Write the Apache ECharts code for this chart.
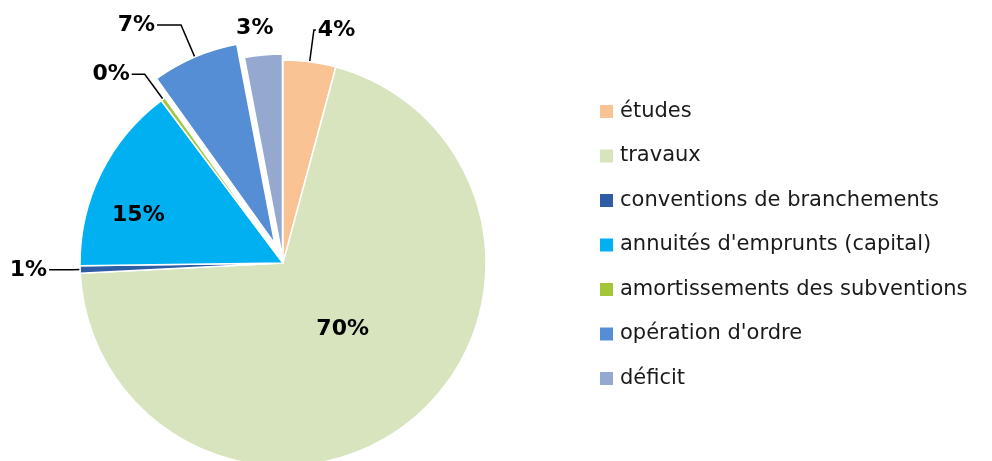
<!DOCTYPE html>
<html>
<head>
<meta charset="utf-8">
<script src="https://cdn.jsdelivr.net/npm/echarts@6/dist/echarts.min.js"></script>
<style>html,body{margin:0;padding:0;background:#fff;}#c{width:992px;height:461px;}</style>
</head>
<body>
<div id="c"></div>
<script>
var categories = ['études', 'travaux', 'conventions de branchements', "annuités d'emprunts (capital)", 'amortissements des subventions', "opération d'ordre", 'déficit'];
var values = [4.2, 70.1, 0.6, 15.0, 0.35, 6.9, 3.0];
var colors = ['#F9C393', '#D7E4BD', '#2E5DA6', '#00B0F0', '#A5C538', '#558ED5', '#95A9D0'];
var explodedBig = "opération d'ordre";
var explodedSmall = 'déficit';
// label placement style: [radial fraction of radius, angle shift in degrees] for labels without leader line
var radialLabels = { 'travaux': [0.44, -3], "annuités d'emprunts (capital)": [0.75, -8], 'déficit': [1.135, -1.5] };
var insideLabels = ['travaux', "annuités d'emprunts (capital)"];
var lineLens = {
  'études': [32, 2],
  'conventions de branchements': [8, 23],
  'amortissements des subventions': [31, 13],
  "opération d'ordre": [35, 24]
};
var CX = 283, CY = 263, R = 203;
var FONT = 'DejaVu Sans';

var total = values.reduce(function (a, b) { return a + b; }, 0);
var midAngles = [];
(function () {
  var acc = 0;
  values.forEach(function (v) {
    midAngles.push((acc + v / 2) / total * Math.PI * 2);
    acc += v;
  });
})();

function pctLabel(p) { return Math.round(p.percent) + '%'; }

function buildData(mainSeries) {
  return categories.map(function (name, i) {
    var isBig = name === explodedBig;
    var visible = mainSeries ? !isBig : isBig;
    var item = {
      name: name,
      value: values[i],
      itemStyle: { color: colors[i], opacity: visible ? 1 : 0, borderWidth: visible ? 1.5 : 0 },
      selected: mainSeries ? (name === explodedSmall) : isBig
    };
    if (!visible) {
      item.label = { show: false };
      item.labelLine = { show: false };
    } else if (insideLabels.indexOf(name) >= 0) {
      item.label = { position: 'inside' };
    } else if (name === 'déficit') {
      item.labelLine = { show: false, length: 10, length2: 0 };
    } else {
      var l = lineLens[name] || [10, 10];
      item.labelLine = { length: l[0], length2: l[1], show: true };
    }
    return item;
  });
}

function layoutFn(params) {
  var name = categories[params.dataIndex];
  var cfg = radialLabels[name];
  if (cfg == null) return {};
  var a = midAngles[params.dataIndex] + cfg[1] * Math.PI / 180;
  var tx = CX + cfg[0] * R * Math.sin(a);
  var ty = CY - cfg[0] * R * Math.cos(a);
  var r = params.labelRect;
  return { dx: tx - (r.x + r.width / 2), dy: ty - (r.y + r.height / 2) };
}

function makeSeries(mainSeries, offset) {
  return {
    type: 'pie',
    center: [CX, CY],
    radius: [0, R],
    startAngle: 90,
    clockwise: true,
    animation: false,
    avoidLabelOverlap: false,
    selectedMode: 'multiple',
    selectedOffset: offset,
    silent: true,
    select: { itemStyle: { borderColor: '#fff' } },
    emphasis: { disabled: true },
    itemStyle: { borderColor: '#fff', borderWidth: 1.5 },
    label: {
      show: true,
      position: 'outside',
      formatter: pctLabel,
      fontFamily: FONT,
      fontWeight: 'bold',
      fontSize: 22,
      color: '#000',
      distanceToLabelLine: 2
    },
    labelLine: { show: true, lineStyle: { color: '#000', width: 1.5 }, smooth: false },
    labelLayout: layoutFn,
    data: buildData(mainSeries)
  };
}

var chart = echarts.init(document.getElementById('c'));
chart.setOption({
  backgroundColor: '#fff',
  legend: {
    orient: 'vertical',
    left: 595,
    top: 96,
    itemWidth: 13,
    itemHeight: 13,
    itemGap: 23.5,
    icon: 'rect',
    selectedMode: false,
    textStyle: { fontFamily: FONT, fontSize: 21, color: '#1a1a1a', padding: [0, 0, 0, 2] },
    data: categories.map(function (n, i) { return { name: n, itemStyle: { color: colors[i], opacity: 1, borderWidth: 0 } }; })
  },
  series: [makeSeries(true, 6), makeSeries(false, 21)]
});
</script>
</body>
</html>
